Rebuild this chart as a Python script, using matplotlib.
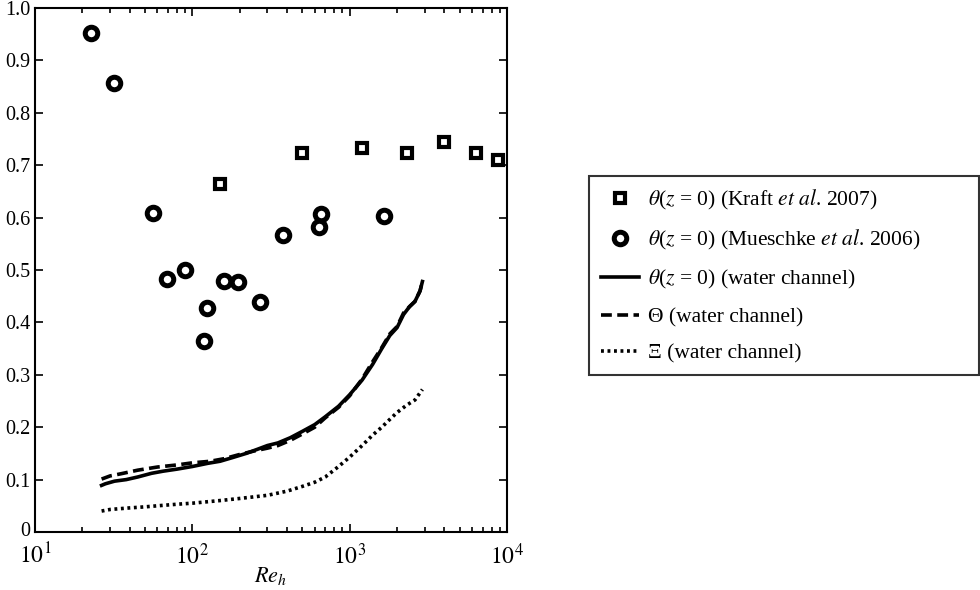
import math
import matplotlib
matplotlib.use("Agg")
import matplotlib.pyplot as plt
import matplotlib.transforms as mtransforms
from matplotlib.ticker import FixedLocator, FuncFormatter, LogLocator, NullFormatter

plt.rcParams['font.family'] = ['Liberation Serif', 'DejaVu Serif']
plt.rcParams['mathtext.fontset'] = 'stix'

# Kraft et al. 2007 (squares)
kraft_re = [150, 500, 1195, 2306, 4000, 6370, 8810]
kraft_theta = [0.665, 0.723, 0.733, 0.723, 0.745, 0.723, 0.709]

# Mueschke et al. 2006 (circles)
mue_re = [22.6, 31.9, 56, 68.7, 90, 119, 124.6, 159, 196, 269, 376, 641, 657, 1663]
mue_theta = [0.952, 0.856, 0.609, 0.482, 0.500, 0.364, 0.427, 0.479, 0.478, 0.438, 0.566, 0.582, 0.606, 0.604]

# water channel theta(z=0) solid
wc_re = [26.5, 28, 32, 38, 45, 55, 65, 80, 100, 125, 150, 180, 220, 260, 300, 350, 420,
         500, 600, 700, 850, 1000, 1200, 1400, 1600, 1800, 2000, 2200, 2400, 2600, 2800, 2900]
wc_theta = [0.089, 0.092, 0.097, 0.100, 0.105, 0.112, 0.116, 0.120, 0.125, 0.131, 0.135, 0.142,
            0.150, 0.158, 0.165, 0.170, 0.180, 0.192, 0.205, 0.220, 0.240, 0.262, 0.290, 0.320,
            0.350, 0.375, 0.390, 0.415, 0.430, 0.440, 0.460, 0.478]

# water channel Theta dashed
wc2_re = [26.5, 30, 35, 45, 60, 80, 100, 130, 160, 200, 250, 300, 350, 420, 500, 600, 700,
          850, 1000, 1200, 1400, 1600, 1800, 2000, 2200, 2400, 2600, 2800, 2900]
wc2_Theta = [0.101, 0.107, 0.111, 0.118, 0.124, 0.128, 0.132, 0.135, 0.140, 0.148, 0.155,
             0.160, 0.165, 0.175, 0.187, 0.200, 0.218, 0.238, 0.260, 0.292, 0.325, 0.352,
             0.378, 0.392, 0.418, 0.430, 0.440, 0.460, 0.478]

# water channel Xi dotted
wc3_re = [26.5, 30, 40, 50, 60, 80, 100, 150, 200, 300, 400, 500, 600, 700, 850, 1000, 1200,
          1400, 1600, 1800, 2000, 2300, 2600, 2900]
wc3_Xi = [0.040, 0.043, 0.046, 0.048, 0.050, 0.053, 0.055, 0.060, 0.064, 0.070, 0.078, 0.087,
          0.095, 0.105, 0.125, 0.143, 0.165, 0.185, 0.200, 0.215, 0.228, 0.242, 0.252, 0.272]

y_ticks = [0, 0.1, 0.2, 0.3, 0.4, 0.5, 0.6, 0.7, 0.8, 0.9, 1.0]
y_labels = ['0', '0.1', '0.2', '0.3', '0.4', '0.5', '0.6', '0.7', '0.8', '0.9', '1.0']

fig = plt.figure(figsize=(9.8, 5.9), dpi=100)
ax = fig.add_axes([35/980, 58/590, 472/980, 524/590])

ax.plot(kraft_re, kraft_theta, 's', ms=6.6, mfc='white', mec='black', mew=3,
        label=r'$\theta$($z$ = 0) (Kraft $\it{et\ al}$. 2007)')
ax.plot(mue_re, mue_theta, 'o', ms=9, mfc='white', mec='black', mew=3.6,
        label=r'$\theta$($z$ = 0) (Mueschke $\it{et\ al}$. 2006)')
ax.plot(wc_re, wc_theta, '-', color='black', lw=2.6,
        label=r'$\theta$($z$ = 0) (water channel)')
ax.plot(wc2_re, wc2_Theta, '--', color='black', lw=2.6, dashes=(3, 1.5),
        label='Θ (water channel)')
ax.plot(wc3_re, wc3_Xi, ':', color='black', lw=2.6, dashes=(0.8, 1.0),
        label='Ξ (water channel)')

ax.set_xscale('log')
ax.set_xlim(10, 1e4)
ax.set_ylim(0, 1.0)
ax.yaxis.set_major_locator(FixedLocator(y_ticks))
ax.set_yticklabels(y_labels)
ax.xaxis.set_major_formatter(FuncFormatter(lambda v, p: r'$10^{%d}$' % round(math.log10(v))))
ax.xaxis.set_minor_locator(LogLocator(base=10, subs=range(2, 10)))
ax.xaxis.set_minor_formatter(NullFormatter())
ax.tick_params(which='both', direction='in', top=True, right=True, labelsize=14.5, width=1.2)
ax.tick_params(which='major', length=6)
ax.tick_params(which='minor', length=3.5)
ax.tick_params(axis='x', labelsize=17, pad=8)
for s in ax.spines.values():
    s.set_linewidth(1.5)
ax.set_xlabel(r'$Re_h$', fontsize=16, labelpad=-3)

# lift the "0" y label slightly, as in the reference
zero_lbl = ax.get_yticklabels()[0]
zero_lbl.set_transform(zero_lbl.get_transform() +
                       mtransforms.ScaledTranslation(0, 3/100, fig.dpi_scale_trans))

leg = fig.legend(loc='upper left', bbox_to_anchor=(589/980, 414/590, 390/980, 0.0),
                 mode='expand', fontsize=15.5, frameon=True, fancybox=False,
                 edgecolor='black', handlelength=1.75, handletextpad=0.45,
                 labelspacing=0.75, borderpad=0.55, borderaxespad=0)
leg.get_frame().set_linewidth(1.5)

fig.savefig('out.png', dpi=100)
